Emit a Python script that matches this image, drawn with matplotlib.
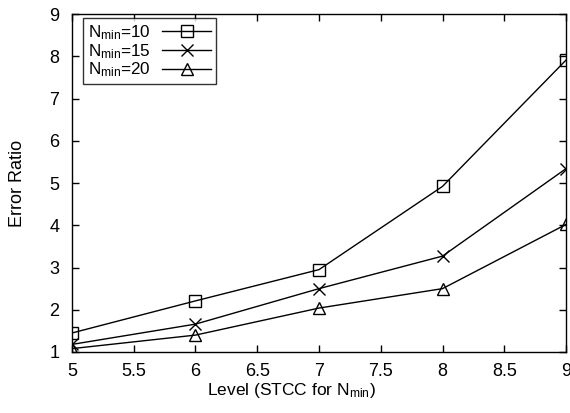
import matplotlib
matplotlib.use("Agg")
import matplotlib.pyplot as plt

plt.rcParams['font.family'] = ['Liberation Sans', 'DejaVu Sans']
plt.rcParams['mathtext.fontset'] = 'custom'
plt.rcParams['mathtext.rm'] = 'Liberation Sans'
plt.rcParams['mathtext.it'] = 'Liberation Sans:italic'

levels = [5, 6, 7, 8, 9]
nmin10 = [1.45, 2.21, 2.95, 4.92, 7.91]
nmin15 = [1.18, 1.66, 2.50, 3.27, 5.34]
nmin20 = [1.08, 1.40, 2.04, 2.50, 4.02]
labels = [r'N$_{\mathrm{min}}$=10', r'N$_{\mathrm{min}}$=15', r'N$_{\mathrm{min}}$=20']
xticks = [5, 5.5, 6, 6.5, 7, 7.5, 8, 8.5, 9]
yticks = [1, 2, 3, 4, 5, 6, 7, 8, 9]

fig = plt.figure(figsize=(5.7, 4.13), dpi=100)
ax = fig.add_axes([0.1263, 0.1477, 0.8667, 0.8183])

ax.plot(levels, nmin10, color='black', lw=1, marker='s', ms=9, mfc='none', mew=1, label=labels[0])
ax.plot(levels, nmin15, color='black', lw=1, marker='x', ms=9, mew=1, label=labels[1])
ax.plot(levels, nmin20, color='black', lw=1, marker='^', ms=8, mfc='none', mew=1, label=labels[2])

ax.set_xlim(5, 9)
ax.set_ylim(1, 9)
ax.set_xticks(xticks)
ax.set_xticklabels([('%g' % t) for t in xticks])
ax.set_yticks(yticks)
ax.tick_params(direction='in', top=True, right=True, length=5, width=1, labelsize=13)
ax.tick_params(axis='x', pad=8)
ax.tick_params(axis='y', pad=9)
for s in ax.spines.values():
    s.set_linewidth(1)

ax.set_xlabel(r'Level (STCC for N$_{\mathrm{min}}$)', fontsize=12.5, labelpad=2)
ax.xaxis.set_label_coords(0.445, -0.085)
ax.set_ylabel('Error Ratio', fontsize=13)
ax.yaxis.set_label_coords(-0.094, 0.5)

leg = ax.legend(loc='upper left', bbox_to_anchor=(0.022, 0.988), markerfirst=False, fontsize=12.3,
                frameon=True, fancybox=False, edgecolor='black', handlelength=2.9,
                labelspacing=0.0, borderpad=0.3, handletextpad=0.65, borderaxespad=0)
leg.get_frame().set_linewidth(1)

fig.savefig('out.png', dpi=100)
